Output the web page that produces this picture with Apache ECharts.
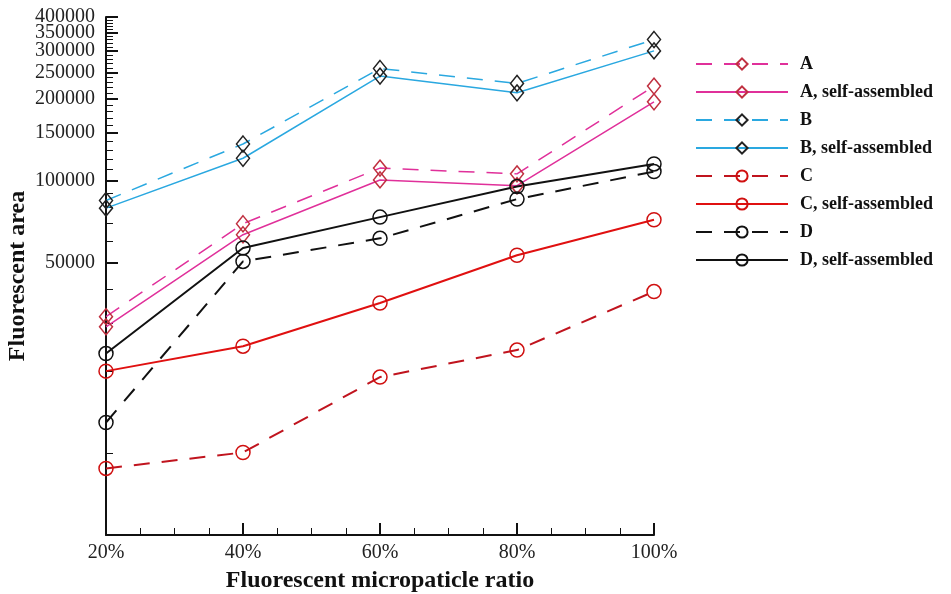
<!DOCTYPE html>
<html>
<head>
<meta charset="utf-8">
<script src="https://cdn.jsdelivr.net/npm/echarts@6/dist/echarts.min.js"></script>
<style>html,body{margin:0;padding:0;background:#fff}#c{width:951px;height:594px}</style>
</head>
<body>
<div id="c"></div>
<script>
var ratios = [20, 40, 60, 80, 100];
var seriesNames = ['A', 'A, self-assembled', 'B', 'B, self-assembled', 'C', 'C, self-assembled', 'D', 'D, self-assembled'];
var A = [31700, 69600, 111400, 106100, 222900];
var A_self = [29100, 63400, 100800, 96000, 195200];
var B = [84700, 136600, 258700, 228000, 330600];
var B_self = [79400, 121100, 242600, 210600, 300300];
var C = [8780, 10050, 19020, 23900, 39200];
var C_self = [20000, 24700, 35600, 53300, 71950];
var D = [12950, 50600, 61500, 85700, 108200];
var D_self = [23200, 56700, 73600, 95300, 115400];
var yMajorTicks = [50000, 100000, 150000, 200000, 250000, 300000, 350000, 400000];
var yLabelsA = [50000, 100000, 150000, 200000, 250000, 300000, 400000];
var yLabelsB = [350000];
var yMinorTicks = [10000, 20000, 30000, 40000, 50000, 60000, 70000, 80000, 90000, 100000, 110000, 120000, 130000, 140000, 150000, 160000, 170000, 180000, 190000, 200000, 210000, 220000, 230000, 240000, 250000, 260000, 270000, 280000, 290000, 300000, 310000, 320000, 330000, 340000, 350000, 360000, 370000, 380000, 390000, 400000];

var FONT = '"Liberation Serif", "Times New Roman", serif';
var values = [A, A_self, B, B_self, C, C_self, D, D_self];
var lineColors = ['#e0309a', '#e0309a', '#2aa8e0', '#2aa8e0', '#c0141e', '#e01010', '#111111', '#111111'];
var markColors = ['#c03040', '#c03040', '#222222', '#222222', '#d01010', '#d01010', '#111111', '#111111'];
var dashed = [true, false, true, false, true, false, true, false];
var symbols = ['diamond', 'diamond', 'diamond', 'diamond', 'circle', 'circle', 'circle', 'circle'];
var widths = [1.5, 1.5, 1.5, 1.5, 2, 2, 2, 2];

var series = seriesNames.map(function (name, i) {
  return {
    name: name,
    type: 'line',
    xAxisIndex: 0,
    yAxisIndex: 0,
    data: ratios.map(function (r, j) { return [r, values[i][j]]; }),
    symbol: symbols[i],
    symbolSize: symbols[i] === 'diamond' ? [13, 16] : 14,
    showSymbol: true,
    lineStyle: { color: lineColors[i], width: widths[i], type: dashed[i] ? [16, 12] : 'solid' },
    itemStyle: { color: 'rgba(255,255,255,0)', borderColor: markColors[i], borderWidth: 1.5 },
    emphasis: { disabled: true },
    animation: false,
    z: 3
  };
});

var labelStyle = {
  formatter: function (v) { return String(Math.round(v)); },
  fontFamily: FONT, fontSize: 20, lineHeight: 15, color: '#222', margin: 11,
  hideOverlap: false, showMinLabel: true, showMaxLabel: true
};

var chart = echarts.init(document.getElementById('c'));
chart.setOption({
  backgroundColor: '#ffffff',
  animation: false,
  grid: { left: 106, right: 297, top: 17, bottom: 59, containLabel: false, outerBoundsMode: 'none' },
  legend: {
    orient: 'vertical',
    left: 695,
    top: 55,
    padding: 0,
    itemWidth: 92,
    itemHeight: 14,
    itemGap: 10,
    data: seriesNames,
    textStyle: { fontFamily: FONT, fontWeight: 'bold', fontSize: 18, color: '#111', padding: [0, 0, 0, 7] }
  },
  xAxis: {
    type: 'value',
    min: 20, max: 100, interval: 20,
    name: 'Fluorescent micropaticle ratio',
    nameLocation: 'middle',
    nameGap: 34,
    nameTextStyle: { fontFamily: FONT, fontWeight: 'bold', fontSize: 24, color: '#111' },
    axisLine: { show: true, lineStyle: { color: '#111', width: 2 } },
    axisTick: { show: true, inside: true, length: 12, lineStyle: { color: '#111', width: 2 } },
    minorTick: { show: true, splitNumber: 4, length: 7, lineStyle: { color: '#111', width: 1 } },
    axisLabel: { formatter: '{value}%', fontFamily: FONT, fontSize: 20, color: '#222', margin: 8, showMinLabel: true, showMaxLabel: true },
    splitLine: { show: false },
    minorSplitLine: { show: false }
  },
  yAxis: [{
    type: 'log',
    min: 5000, max: 400000,
    position: 'left',
    name: 'Fluorescent area',
    nameLocation: 'middle',
    nameGap: 76,
    nameMoveOverlap: false,
    nameRotate: 90,
    nameTextStyle: { fontFamily: FONT, fontWeight: 'bold', fontSize: 24, color: '#111' },
    axisLine: { show: true, lineStyle: { color: '#111', width: 2 } },
    axisTick: { show: true, inside: true, length: 12, customValues: yMajorTicks, lineStyle: { color: '#111', width: 2 } },
    axisLabel: Object.assign({ customValues: yLabelsA }, labelStyle),
    splitLine: { show: false }
  }, {
    type: 'log',
    min: 5000, max: 400000,
    position: 'left',
    offset: 0,
    axisLine: { show: false },
    axisTick: { show: true, inside: true, length: 7, customValues: yMinorTicks, lineStyle: { color: '#111', width: 1 } },
    axisLabel: Object.assign({ customValues: yLabelsB }, labelStyle),
    splitLine: { show: false }
  }],
  series: series
});
</script>
</body>
</html>
